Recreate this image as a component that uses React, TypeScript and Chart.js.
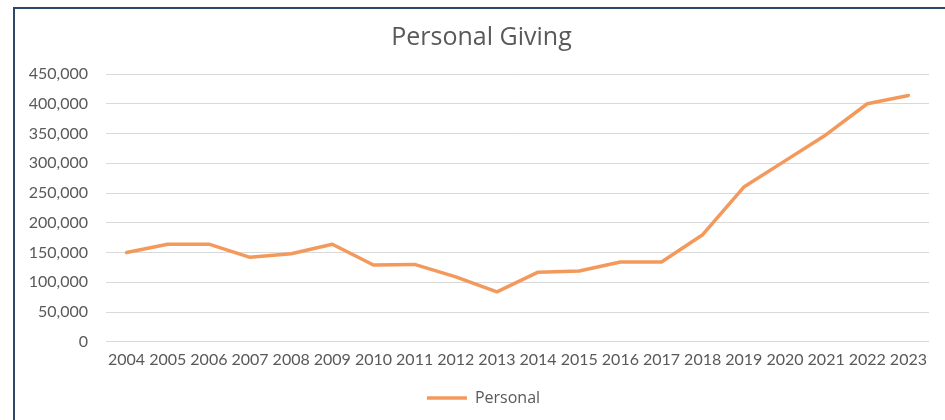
import { useEffect, useRef } from "react";
import { Chart, registerables } from "chart.js";

Chart.register(...registerables);

const years = [
  "2004", "2005", "2006", "2007", "2008", "2009", "2010", "2011", "2012", "2013",
  "2014", "2015", "2016", "2017", "2018", "2019", "2020", "2021", "2022", "2023",
];
const personal = [
  150000, 164000, 164000, 142000, 148000, 164000, 129000, 130000, 109000, 84000,
  117000, 119000, 134000, 134000, 180000, 260000, 304000, 348000, 400000, 414000,
];
const yMin = 0;
const yMax = 450000;
const yStep = 50000;
const titleText = "Personal Giving";
const seriesName = "Personal";

const FONT = "Lato, 'Open Sans', sans-serif";
const FONT2 = "'Open Sans', Lato, sans-serif";
const TEXT = "#595959";
const LINE = "#F4995C";

const shiftBlocks = {
  id: "shiftBlocks",
  afterLayout(chart: any) {
    const l = chart.legend;
    if (l) {
      l.left += 9;
      l.right += 9;
    }
    const t = chart.titleBlock;
    if (t) {
      t.left += 7;
      t.right += 7;
    }
  },
};

export default function App() {
  const ref = useRef<HTMLCanvasElement | null>(null);

  useEffect(() => {
    if (!ref.current) return;
    const chart = new Chart(ref.current, {
      type: "line",
      data: {
        labels: years,
        datasets: [
          {
            label: seriesName,
            data: personal,
            borderColor: LINE,
            backgroundColor: LINE,
            borderWidth: 3.5,
            pointRadius: 0,
            pointStyle: "line",
            tension: 0,
            borderCapStyle: "round",
            borderJoinStyle: "round",
          },
        ],
      },
      plugins: [shiftBlocks],
      options: {
        animation: false,
        responsive: false,
        devicePixelRatio: 1,
        layout: { padding: { left: 20, right: 16, top: 23, bottom: 4 } },
        plugins: {
          title: {
            display: true,
            text: titleText,
            color: TEXT,
            font: { family: FONT2, size: 25, weight: "normal" },
            padding: { top: 0, bottom: 21 },
          },
          legend: {
            display: true,
            position: "bottom",
            labels: {
              usePointStyle: true,
              pointStyleWidth: 40,
              color: TEXT,
              font: { family: FONT2, size: 16 },
              padding: 13,
            },
          },
          tooltip: { enabled: false },
        },
        scales: {
          x: {
            offset: true,
            grid: { display: false, drawTicks: false },
            border: { display: false },
            ticks: {
              color: TEXT,
              font: { family: FONT, size: 16 },
              padding: 8,
              maxRotation: 0,
              autoSkip: false,
            },
          },
          y: {
            min: yMin,
            max: yMax,
            grid: { color: "#d9d9d9", lineWidth: 1, drawTicks: false },
            border: { display: false },
            ticks: {
              stepSize: yStep,
              color: TEXT,
              font: { family: FONT, size: 16 },
              padding: 18,
              callback: (v: any) => Number(v).toLocaleString("en-US"),
            },
            afterFit: (s: any) => {
              s.width = 86;
            },
          },
        },
      },
    });
    return () => chart.destroy();
  }, []);

  return (
    <div
      style={{
        position: "fixed",
        left: 0,
        top: 0,
        width: 945,
        height: 420,
        background: "#ffffff",
        overflow: "hidden",
      }}
    >
      <div
        style={{
          position: "absolute",
          left: 13,
          top: 7,
          width: 940,
          height: 420,
          borderLeft: "2.5px solid #2b4866",
          borderTop: "2.5px solid #2b4866",
          boxSizing: "border-box",
        }}
      />
      <canvas
        ref={ref}
        width={945}
        height={420}
        style={{ position: "absolute", left: 0, top: 0, width: 945, height: 420 }}
      />
    </div>
  );
}
